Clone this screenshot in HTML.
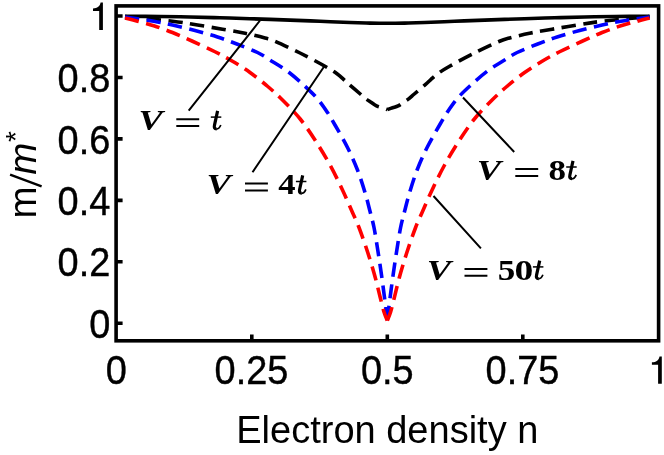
<!DOCTYPE html>
<html><head><meta charset="utf-8">
<style>
html,body{margin:0;padding:0;background:#fff;}
body{width:664px;height:455px;overflow:hidden;}
svg{display:block;}
.ax{font-family:"Liberation Sans",sans-serif;font-size:38.5px;fill:#000;}
.lb{font-family:"Liberation Serif",serif;font-weight:bold;font-size:30px;fill:#000;}
.tk{stroke:#000;stroke-width:0.4px;}
.it{font-style:italic;}
</style></head>
<body>
<svg width="664" height="455" viewBox="0 0 664 455" style="will-change:transform">
<rect width="664" height="455" fill="#fff"/>
<!-- curves -->
<g fill="none" stroke-width="3.6" stroke-linecap="butt" stroke-linejoin="miter">
<path d="M125.00 16.20 C130.83 16.25 149.17 16.37 160.00 16.50 C170.83 16.63 180.00 16.78 190.00 17.00 C200.00 17.22 210.00 17.52 220.00 17.80 C230.00 18.08 238.33 18.32 250.00 18.70 C261.67 19.08 278.33 19.67 290.00 20.10 C301.67 20.53 310.00 20.90 320.00 21.30 C330.00 21.70 341.67 22.20 350.00 22.50 C358.33 22.80 363.78 22.97 370.00 23.10 C376.22 23.23 381.53 23.30 387.30 23.30 C393.07 23.30 398.38 23.23 404.60 23.10 C410.82 22.97 416.27 22.80 424.60 22.50 C432.93 22.20 444.60 21.70 454.60 21.30 C464.60 20.90 472.93 20.53 484.60 20.10 C496.27 19.67 512.93 19.08 524.60 18.70 C536.27 18.32 544.60 18.08 554.60 17.80 C564.60 17.52 574.60 17.22 584.60 17.00 C594.60 16.78 603.77 16.63 614.60 16.50 C625.43 16.37 643.77 16.25 649.60 16.20" stroke="#000"/>
<path d="M125.00 16.50 C132.92 17.29 160.42 19.83 172.50 21.25 C184.58 22.67 189.17 23.67 197.50 25.00 C205.83 26.33 214.58 27.88 222.50 29.25 C230.42 30.62 237.92 31.79 245.00 33.25 C252.08 34.71 260.00 36.67 265.00 38.00 C270.00 39.33 269.17 38.75 275.00 41.25 C280.83 43.75 291.67 48.83 300.00 53.00 C308.33 57.17 318.83 62.78 325.00 66.25 C331.17 69.72 333.87 71.58 337.00 73.80 C340.13 76.02 341.80 77.83 343.80 79.60 C345.80 81.37 346.25 82.00 349.00 84.40 C351.75 86.80 357.53 91.63 360.30 94.00 C363.07 96.37 363.82 97.23 365.60 98.60 C367.38 99.97 369.18 100.98 371.00 102.20 C372.82 103.42 374.67 104.98 376.50 105.90 C378.33 106.83 380.20 107.13 382.00 107.75 C383.80 108.37 386.42 109.29 387.30 109.60 M387.30 109.60 C388.18 109.29 390.80 108.37 392.60 107.75 C394.40 107.13 396.27 106.83 398.10 105.90 C399.93 104.98 401.78 103.42 403.60 102.20 C405.42 100.98 407.22 99.97 409.00 98.60 C410.78 97.23 411.53 96.37 414.30 94.00 C417.07 91.63 422.85 86.80 425.60 84.40 C428.35 82.00 428.80 81.37 430.80 79.60 C432.80 77.83 434.47 76.02 437.60 73.80 C440.73 71.58 443.43 69.72 449.60 66.25 C455.77 62.78 466.27 57.17 474.60 53.00 C482.93 48.83 493.77 43.75 499.60 41.25 C505.43 38.75 504.60 39.33 509.60 38.00 C514.60 36.67 522.52 34.71 529.60 33.25 C536.68 31.79 544.18 30.62 552.10 29.25 C560.02 27.88 568.77 26.33 577.10 25.00 C585.43 23.67 590.02 22.67 602.10 21.25 C614.18 19.83 641.68 17.29 649.60 16.50" stroke="#000" stroke-dasharray="14.3 7.5"/>
<path d="M125.00 17.00 C129.79 17.71 145.83 19.92 153.75 21.25 C161.67 22.58 165.62 23.46 172.50 25.00 C179.38 26.54 187.50 28.50 195.00 30.50 C202.50 32.50 210.42 34.71 217.50 37.00 C224.58 39.29 230.83 41.67 237.50 44.25 C244.17 46.83 252.08 49.88 257.50 52.50 C262.92 55.12 265.00 56.88 270.00 60.00 C275.00 63.12 281.67 66.88 287.50 71.25 C293.33 75.62 300.00 81.67 305.00 86.25 C310.00 90.83 313.75 94.38 317.50 98.75 C321.25 103.12 324.58 108.12 327.50 112.50 C330.42 116.88 331.67 119.17 335.00 125.00 C338.33 130.83 343.75 140.00 347.50 147.50 C351.25 155.00 354.58 162.50 357.50 170.00 C360.42 177.50 362.92 185.62 365.00 192.50 C367.08 199.38 368.50 205.42 370.00 211.25 C371.50 217.08 372.71 221.04 374.00 227.50 C375.29 233.96 376.50 242.08 377.75 250.00 C379.00 257.92 380.38 267.08 381.50 275.00 C382.62 282.92 383.53 290.00 384.50 297.50 C385.47 305.00 386.83 316.25 387.30 320.00 M387.30 320.00 C387.77 316.25 389.13 305.00 390.10 297.50 C391.07 290.00 391.98 282.92 393.10 275.00 C394.23 267.08 395.60 257.92 396.85 250.00 C398.10 242.08 399.31 233.96 400.60 227.50 C401.89 221.04 403.10 217.08 404.60 211.25 C406.10 205.42 407.52 199.38 409.60 192.50 C411.68 185.62 414.18 177.50 417.10 170.00 C420.02 162.50 423.35 155.00 427.10 147.50 C430.85 140.00 436.27 130.83 439.60 125.00 C442.93 119.17 444.18 116.88 447.10 112.50 C450.02 108.12 453.35 103.12 457.10 98.75 C460.85 94.38 464.60 90.83 469.60 86.25 C474.60 81.67 481.27 75.62 487.10 71.25 C492.93 66.88 499.60 63.12 504.60 60.00 C509.60 56.88 511.68 55.12 517.10 52.50 C522.52 49.88 530.43 46.83 537.10 44.25 C543.77 41.67 550.02 39.29 557.10 37.00 C564.18 34.71 572.10 32.50 579.60 30.50 C587.10 28.50 595.23 26.54 602.10 25.00 C608.98 23.46 612.93 22.58 620.85 21.25 C628.77 19.92 644.81 17.71 649.60 17.00" stroke="#0000ff" stroke-dasharray="14.3 7.5"/>
<path d="M125.00 18.00 C127.08 18.54 132.71 19.96 137.50 21.25 C142.29 22.54 147.92 23.88 153.75 25.75 C159.58 27.62 166.04 29.92 172.50 32.50 C178.96 35.08 185.42 38.04 192.50 41.25 C199.58 44.46 208.33 48.42 215.00 51.75 C221.67 55.08 226.67 57.79 232.50 61.25 C238.33 64.71 244.17 68.33 250.00 72.50 C255.83 76.67 262.08 81.67 267.50 86.25 C272.92 90.83 277.08 94.58 282.50 100.00 C287.92 105.42 294.58 112.08 300.00 118.75 C305.42 125.42 310.00 132.29 315.00 140.00 C320.00 147.71 325.42 156.67 330.00 165.00 C334.58 173.33 338.75 182.08 342.50 190.00 C346.25 197.92 349.75 206.25 352.50 212.50 C355.25 218.75 356.46 220.83 359.00 227.50 C361.54 234.17 365.04 244.17 367.75 252.50 C370.46 260.83 373.17 270.00 375.25 277.50 C377.33 285.00 378.79 291.75 380.25 297.50 C381.71 303.25 382.82 308.17 384.00 312.00 C385.18 315.83 386.75 319.08 387.30 320.50 M387.30 320.50 C387.85 319.08 389.43 315.83 390.60 312.00 C391.78 308.17 392.89 303.25 394.35 297.50 C395.81 291.75 397.27 285.00 399.35 277.50 C401.43 270.00 404.14 260.83 406.85 252.50 C409.56 244.17 413.06 234.17 415.60 227.50 C418.14 220.83 419.35 218.75 422.10 212.50 C424.85 206.25 428.35 197.92 432.10 190.00 C435.85 182.08 440.02 173.33 444.60 165.00 C449.18 156.67 454.60 147.71 459.60 140.00 C464.60 132.29 469.18 125.42 474.60 118.75 C480.02 112.08 486.68 105.42 492.10 100.00 C497.52 94.58 501.68 90.83 507.10 86.25 C512.52 81.67 518.77 76.67 524.60 72.50 C530.43 68.33 536.27 64.71 542.10 61.25 C547.93 57.79 552.93 55.08 559.60 51.75 C566.27 48.42 575.02 44.46 582.10 41.25 C589.18 38.04 595.64 35.08 602.10 32.50 C608.56 29.92 615.02 27.62 620.85 25.75 C626.68 23.88 632.31 22.54 637.10 21.25 C641.89 19.96 647.52 18.54 649.60 18.00" stroke="#ff0000" stroke-dasharray="14.3 7.5"/>
</g>
<!-- frame -->
<rect x="116.1" y="5.9" width="542.5" height="334.9" fill="none" stroke="#000" stroke-width="3.6"/>
<!-- ticks -->
<g stroke="#000" stroke-width="3.6">
<path d="M117 16H122.6M117 77.5H122.6M117 138.9H122.6M117 200.4H122.6M117 261.8H122.6M117 323.3H122.6"/>
<path d="M251.8 340V334.4M387.3 340V334.4M522.8 340V334.4"/>
</g>
<!-- annotation lines -->
<g stroke="#000" stroke-width="2">
<path d="M260 20.5L188.7 110.6M324.5 66L252.5 172.3M463 97.5L514.2 152M433.5 196L480.9 248.3"/>
</g>
<!-- y tick labels -->
<g class="ax tk" text-anchor="end">
<text transform="translate(110.3,92.1) scale(.985,1.045)">0.8</text>
<text transform="translate(110.3,153.5) scale(.985,1.045)">0.6</text>
<text transform="translate(110.3,215.0) scale(.985,1.045)">0.4</text>
<text transform="translate(110.3,276.4) scale(.985,1.045)">0.2</text>
<text transform="translate(110.3,337.9) scale(.985,1.045)">0</text>
</g>
<!-- x tick labels -->
<g class="ax tk" text-anchor="middle">
<text transform="translate(116.2,384.4) scale(.985,1.045)">0</text>
<text transform="translate(251.5,384.4) scale(.985,1.045)">0.25</text>
<text transform="translate(387.3,384.4) scale(.985,1.045)">0.5</text>
<text transform="translate(522.5,384.4) scale(.985,1.045)">0.75</text>
</g>
<text class="ax" x="387.3" y="442.9" text-anchor="middle" style="font-size:38px">Electron density n</text>
<!-- ones -->
<path transform="translate(102.9,29.9)" d="M0 0V-27.4H-2.3C-2.9 -23.6 -5.6 -21.8 -9.9 -21.5V-19H-3.7V0Z" fill="#000"/>
<path transform="translate(661.8,383.8)" d="M0 0V-27.4H-2.3C-2.9 -23.6 -5.6 -21.8 -9.9 -21.5V-19H-3.7V0Z" fill="#000"/>
<!-- y title -->
<g transform="translate(36.4,218.6) rotate(-90)">
<text class="ax" x="0" y="0">m</text>
<text class="ax" x="43.8" y="0" font-style="italic">m</text>
<text class="ax" x="76.6" y="-11.5" style="font-size:28px">*</text>
</g>
<path d="M41.6 186.4L10.1 174.6" stroke="#000" stroke-width="2.4" fill="none"/>
<!-- labels -->
<g>
<text class="lb it" transform="matrix(1.214 0 0 1.010 138.51 129.79)">V</text>
<path d="M176.3 119.2h22.9M176.3 126.0h22.9" stroke="#000" stroke-width="2" fill="none"/>
<g fill="none" stroke="#000" transform="translate(210.6,130.0)"><path d="M7 -19.1L3.9 -4.9Q3 -1.1 6 -1.2" stroke-width="3.2"/><path d="M5.6 -0.9Q8.6 -0.9 10.2 -5" stroke-width="1.7"/><path d="M0.2 -12.9H10.7" stroke-width="1.5"/></g>
<text class="lb it" transform="matrix(1.214 0 0 1.010 206.51 194.19)">V</text>
<path d="M245.0 183.6h22.9M245.0 190.4h22.9" stroke="#000" stroke-width="2" fill="none"/>
<text class="lb" transform="matrix(1.156 0 0 1.000 278.25 194.40)">4</text>
<g fill="none" stroke="#000" transform="translate(295.7,194.4)"><path d="M7 -19.1L3.9 -4.9Q3 -1.1 6 -1.2" stroke-width="3.2"/><path d="M5.6 -0.9Q8.6 -0.9 10.2 -5" stroke-width="1.7"/><path d="M0.2 -12.9H10.7" stroke-width="1.5"/></g>
<text class="lb it" transform="matrix(1.214 0 0 1.010 476.81 179.69)">V</text>
<path d="M515.3 169.1h22.9M515.3 175.9h22.9" stroke="#000" stroke-width="2" fill="none"/>
<text class="lb" transform="matrix(1.167 0 0 0.985 548.45 179.61)">8</text>
<g fill="none" stroke="#000" transform="translate(566.0,179.9)"><path d="M7 -19.1L3.9 -4.9Q3 -1.1 6 -1.2" stroke-width="3.2"/><path d="M5.6 -0.9Q8.6 -0.9 10.2 -5" stroke-width="1.7"/><path d="M0.2 -12.9H10.7" stroke-width="1.5"/></g>
<text class="lb it" transform="matrix(1.214 0 0 1.010 426.71 279.59)">V</text>
<path d="M464.5 269.0h22.9M464.5 275.8h22.9" stroke="#000" stroke-width="2" fill="none"/>
<text class="lb" transform="matrix(1.167 0 0 1.000 497.70 279.80)">5</text>
<text class="lb" transform="matrix(1.254 0 0 0.985 514.40 279.51)">0</text>
<g fill="none" stroke="#000" transform="translate(532.7,279.8)"><path d="M7 -19.1L3.9 -4.9Q3 -1.1 6 -1.2" stroke-width="3.2"/><path d="M5.6 -0.9Q8.6 -0.9 10.2 -5" stroke-width="1.7"/><path d="M0.2 -12.9H10.7" stroke-width="1.5"/></g>
</g>
</svg>
</body></html>
